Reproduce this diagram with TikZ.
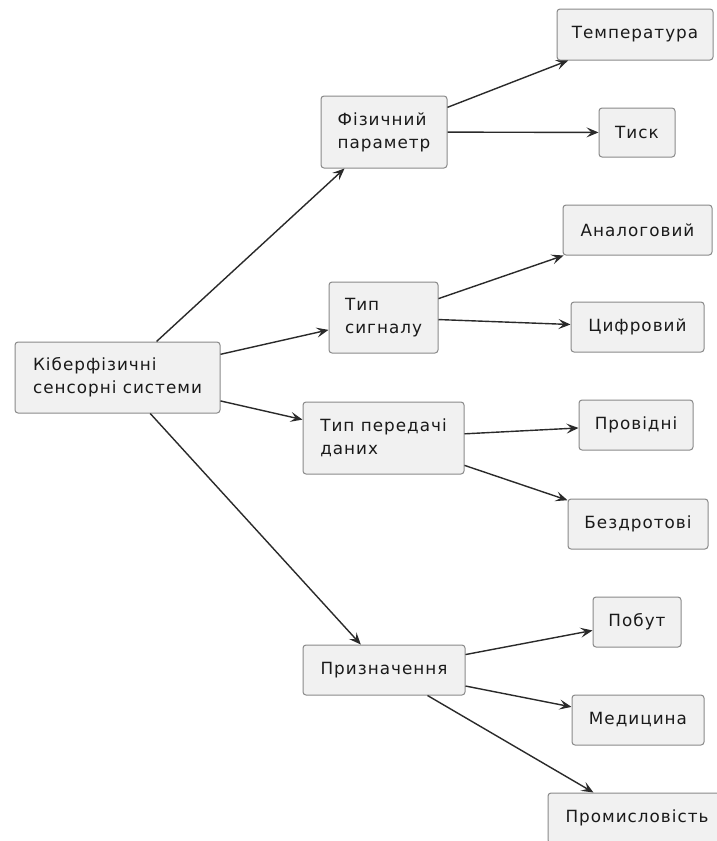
\documentclass[tikz,border=0pt]{standalone}
\usepackage{fontspec}
\setmainfont{DejaVu Sans}[LetterSpace=6]
\usetikzlibrary{arrows.meta}
\definecolor{boxfill}{HTML}{F1F1F1}
\definecolor{boxline}{HTML}{8A8A8A}
\definecolor{ink}{HTML}{1A1A1A}
\definecolor{wire}{HTML}{2A2A2A}
\tikzset{
  box/.style={draw=boxline, fill=boxfill, rounded corners=3pt, line width=1pt,
    text=ink, align=left, inner sep=0pt,
    font=\fontsize{16.8}{23}\selectfont},
  link/.style={draw=wire, line width=1.4pt,
    -{Stealth[length=12pt,width=10pt,inset=5pt]}}
}
\begin{document}
\begin{tikzpicture}[x=1pt,y=-1pt]
  \useasboundingbox (0,0) rectangle (716,841);
  \fill[white] (0,0) rectangle (716,841);

  % root
  \node[box, minimum width=205pt, minimum height=71pt] (root) at (117.5,377.5)
    {Кіберфізичні\\сенсорні системи};

  % second level
  \node[box, minimum width=126pt, minimum height=72pt] (phys) at (384,132)
    {Фізичний\\параметр};
  \node[box, minimum width=109pt, minimum height=71pt] (sig) at (383.5,317.5)
    {Тип\\сигналу};
  \node[box, minimum width=161pt, minimum height=72pt] (trans) at (383.5,438)
    {Тип передачі\\даних};
  \node[box, minimum width=162pt, minimum height=50pt] (purp) at (384,670)
    {Призначення};

  % leaves
  \node[box, minimum width=156pt, minimum height=51pt] (temp) at (635,34.5) {Температура};
  \node[box, minimum width=76pt,  minimum height=49pt] (press) at (637,132.5) {Тиск};
  \node[box, minimum width=149pt, minimum height=50pt] (analog) at (637.5,230) {Аналоговий};
  \node[box, minimum width=133pt, minimum height=50pt] (digit) at (637.5,327) {Цифровий};
  \node[box, minimum width=114pt, minimum height=50pt] (wired) at (636,425) {Провідні};
  \node[box, minimum width=140pt, minimum height=50pt] (wless) at (638,524) {Бездротові};
  \node[box, minimum width=88pt,  minimum height=50pt] (home) at (637,622) {Побут};
  \node[box, minimum width=132pt, minimum height=50pt] (med) at (638,720) {Медицина};
  \node[box, minimum width=178pt, minimum height=50pt] (ind) at (637,818) {Промисловість};

  % connectors
  \draw[link] (root) -- (phys);
  \draw[link] (root) -- (sig);
  \draw[link] (root) -- (trans);
  \draw[link] (root) -- (purp);
  \draw[link] (phys) -- (temp);
  \draw[link] (phys) -- (press);
  \draw[link] (sig) -- (analog);
  \draw[link] (sig) -- (digit);
  \draw[link] (trans) -- (wired);
  \draw[link] (trans) -- (wless);
  \draw[link] (purp) -- (home);
  \draw[link] (purp) -- (med);
  \draw[link] (purp) -- (ind);
\end{tikzpicture}
\end{document}
